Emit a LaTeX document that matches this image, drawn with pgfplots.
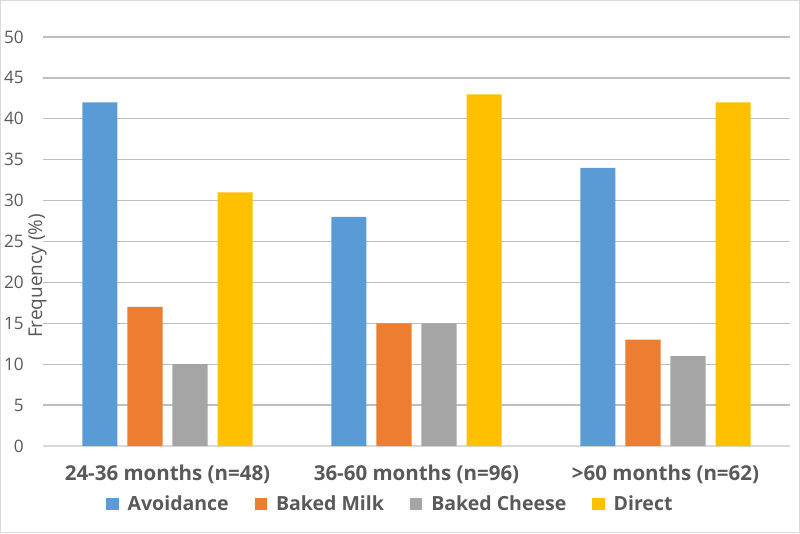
\documentclass[border=0pt]{standalone}
\usepackage{fontspec}
\setmainfont{Open Sans}
\usepackage{pgfplots}
\pgfplotsset{compat=1.18}
\definecolor{cA}{HTML}{5B9BD5}
\definecolor{cB}{HTML}{ED7D31}
\definecolor{cC}{HTML}{A5A5A5}
\definecolor{cD}{HTML}{FFC000}
\definecolor{txt}{HTML}{595959}
\definecolor{grid}{HTML}{D9D9D9}
\begin{document}
\begin{tikzpicture}[x=1pt,y=1pt]
\useasboundingbox (-25.8,-52.2) rectangle (454.2,267.6);
\draw[grid,line width=0.8pt] (-25.4,-51.8) rectangle (453.8,267.2);
\begin{axis}[
  at={(0,0)}, anchor=south west,
  scale only axis, width=448.2pt, height=245.4pt,
  xmin=-0.5, xmax=2.5, ymin=0, ymax=50,
  xtick={0,1,2},
  xticklabels={24-36 months (n=48),36-60 months (n=96),>60 months (n=62)},
  ytick={0,5,...,50},
  axis x line*=bottom, axis y line*=left,
  x axis line style={draw=grid, line width=0.8pt, -},
  y axis line style={draw=none},
  ymajorgrids, xmajorgrids=false, grid style={grid, line width=0.8pt},
  major tick length=0pt,
  tick style={draw=none},
  xticklabel style={font=\fontsize{12.3}{14}\selectfont\bfseries, text=txt, yshift=-8pt},
  yticklabel style={font=\fontsize{10.3}{12}\selectfont, text=txt, anchor=east, xshift=-8pt},
  /pgf/number format/assume math mode=true,
  bar width=0.141,
  legend columns=4,
  legend style={at={(0.466,-0.104)}, anchor=north, draw=none, font=\fontsize{11.7}{14}\selectfont\bfseries, text=txt, column sep=3.4pt, /tikz/every even column/.append style={column sep=13.6pt}},
  legend image code/.code={\fill[#1] (0pt,-3.7pt) rectangle (7.4pt,3.7pt);},
]
\addplot[ybar, fill=cA, draw=none, bar shift=-0.2715] coordinates {(0,42) (1,28) (2,34)};
\addplot[ybar, fill=cB, draw=none, bar shift=-0.0905] coordinates {(0,17) (1,15) (2,13)};
\addplot[ybar, fill=cC, draw=none, bar shift=0.0905] coordinates {(0,10) (1,15) (2,11)};
\addplot[ybar, fill=cD, draw=none, bar shift=0.2715] coordinates {(0,31) (1,43) (2,42)};
\legend{Avoidance,Baked Milk,Baked Cheese,Direct}
\end{axis}
\node[rotate=90, font=\fontsize{11.4}{13}\selectfont, text=txt] at (-3.3,102) {Frequency (\%)};
\end{tikzpicture}
\end{document}
